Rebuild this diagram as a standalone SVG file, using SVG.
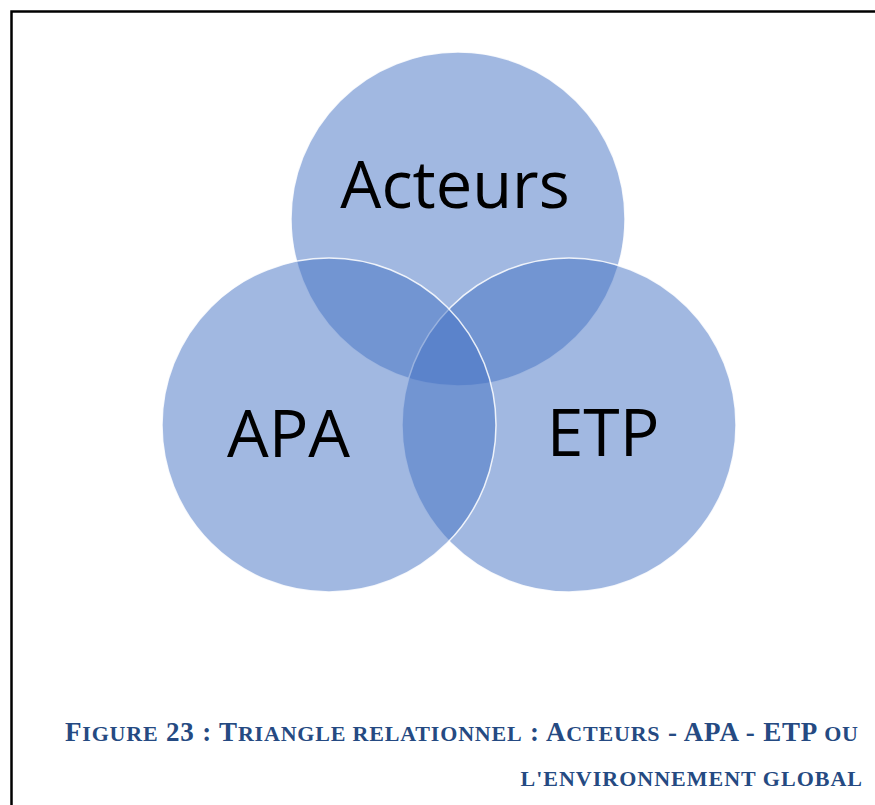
<svg xmlns="http://www.w3.org/2000/svg" width="875" height="805" viewBox="0 0 875 805">
<style>
.c{fill:#4472C4;fill-opacity:0.5;stroke:#ffffff;stroke-width:1.5;stroke-opacity:0.85}
.lbl{font-family:"Open Sans","Liberation Sans",sans-serif;fill:#000;text-anchor:middle}
.cap{font-family:"Liberation Serif","Times New Roman",serif;font-weight:bold;fill:#254A82}
.b{font-size:27px}
.s{font-size:22px}
</style>
<rect width="875" height="805" fill="#ffffff"/>
<path d="M11.5,810 V11.5 H880" fill="none" stroke="#000" stroke-width="2.5"/>
<g id="acteurs">
<circle class="c" cx="458" cy="219" r="167"/>
</g>
<g id="etp">
<circle class="c" cx="569" cy="425" r="167"/>
</g>
<g id="apa">
<circle class="c" cx="329" cy="425" r="167"/>
</g>
<g id="labels">
<text class="lbl" x="455" y="208" font-size="65">Acteurs</text>
<text class="lbl" x="288.5" y="457" font-size="66">APA</text>
<text class="lbl" x="603" y="456" font-size="66">ETP</text>
</g>
<g id="connectors"></g>
<g id="caption">
<text class="cap" x="65" y="741" textLength="793" lengthAdjust="spacing"><tspan class="b">F</tspan><tspan class="s">IGURE</tspan><tspan class="b"> 23 : T</tspan><tspan class="s">RIANGLE RELATIONNEL</tspan><tspan class="b"> : A</tspan><tspan class="s">CTEURS</tspan><tspan class="b"> - APA - ETP </tspan><tspan class="s">OU</tspan></text>
<text class="cap s" x="863" y="786" text-anchor="end" letter-spacing="1">L'ENVIRONNEMENT GLOBAL</text>
</g>
</svg>
